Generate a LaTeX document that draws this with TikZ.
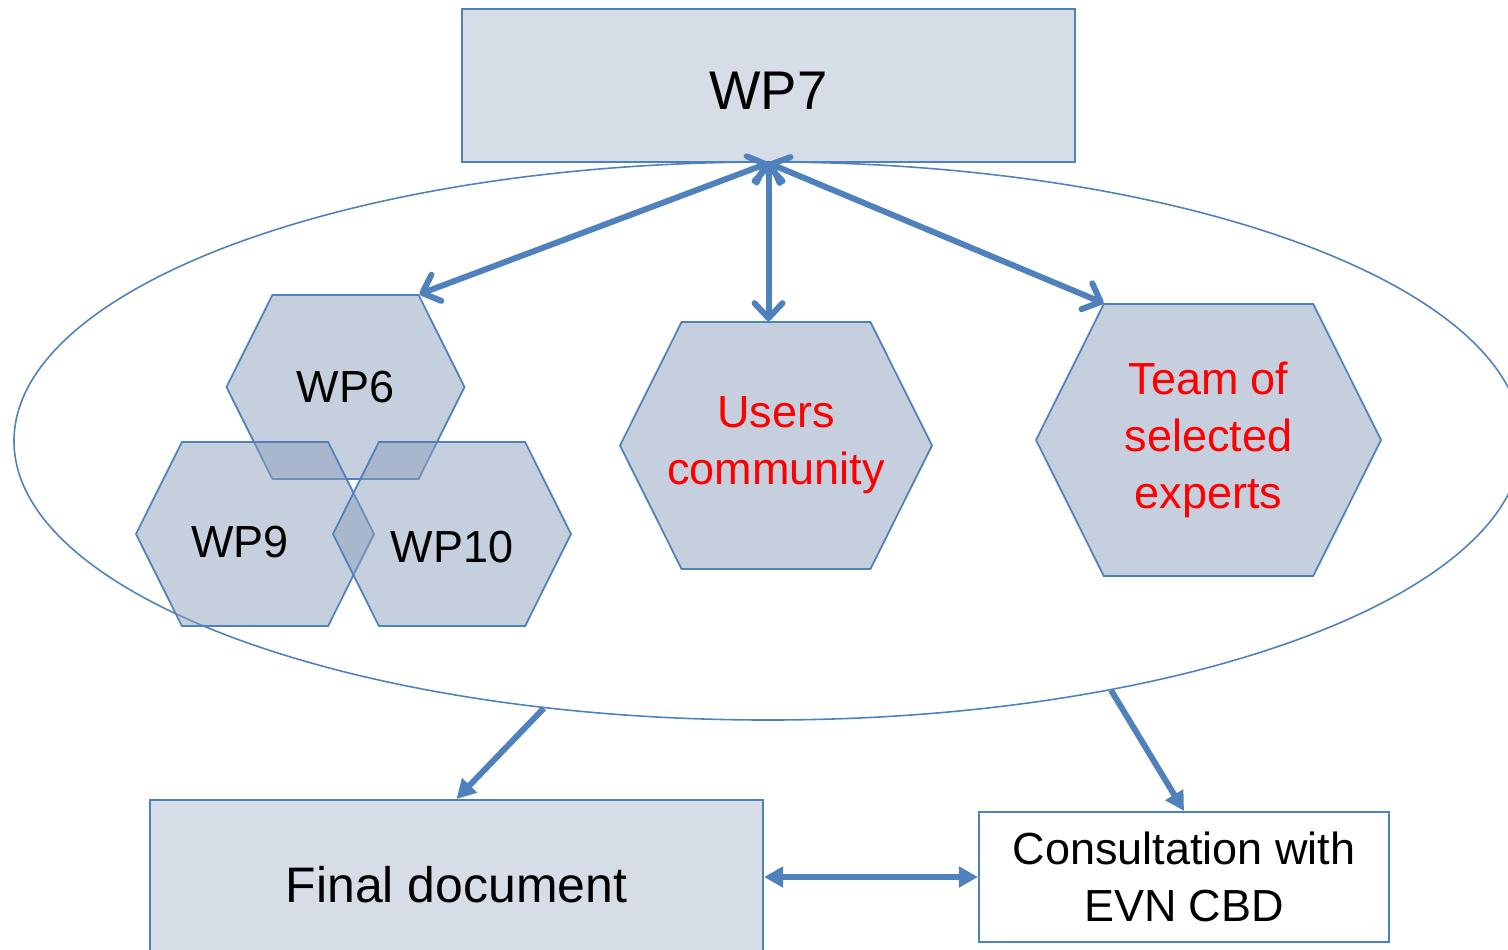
\documentclass[tikz,border=0pt]{standalone}
\usepackage{fontspec}
\setmainfont{Liberation Sans}
\usetikzlibrary{shapes.geometric,shapes.symbols,arrows.meta}
\definecolor{wpblue}{RGB}{79,129,189}
\definecolor{wpbox}{RGB}{214,221,231}
\definecolor{wphex}{RGB}{139,159,187}

\begin{document}
\begin{tikzpicture}[
    box/.style={draw=wpblue, line width=0.6pt, fill=wpbox, inner sep=0pt, align=center},
    hexa/.style={shape=signal, signal to=east and west, signal pointer angle=127,
        draw=wpblue, line width=0.5pt, fill=wphex, fill opacity=0.5, text opacity=1, inner sep=0pt, align=center},
    link/.style={wpblue, line width=1.7pt, {Straight Barb[round,length=1.5mm,width=2.8mm]}-{Straight Barb[round,length=1.5mm,width=2.8mm]}},
    flow/.style={wpblue, line width=1.7pt, -{Triangle[length=1.9mm,width=2mm]}},
    both/.style={wpblue, line width=1.7pt, {Triangle[length=1.9mm,width=2mm]}-{Triangle[length=1.9mm,width=2mm]}},
    txt/.style={font=\fontsize{12.8}{16.2}\selectfont}
]
    \useasboundingbox (0,0) rectangle (15.08,-9.49);

    % the big ellipse round the work packages
    \node[ellipse, draw=wpblue, line width=0.45pt, inner sep=0pt,
          minimum width=15.08cm, minimum height=5.58cm] (cloud) at (7.68,-4.41) {};

    \node[box, minimum width=6.13cm, minimum height=1.53cm, font=\fontsize{15.5}{18}\selectfont] (wp7) at (7.685,-0.855) {\raisebox{-0.5mm}[\height][\depth]{WP7}};

    % hexagons
    \node[hexa, txt, minimum width=2.38cm, minimum height=1.84cm] (wp6) at (3.455,-3.87) {WP6};
    \node[hexa, txt, minimum width=2.38cm, minimum height=1.84cm] (wp9) at (2.55,-5.34) {\raisebox{-0.8mm}[\height][\depth]{WP9}\hspace*{3mm}};
    \node[hexa, txt, minimum width=2.38cm, minimum height=1.84cm] (wp10) at (4.52,-5.34) {\raisebox{-1.3mm}[\height][\depth]{WP10}};
    \node[hexa, txt, text=red, minimum width=3.12cm, minimum height=2.47cm] (users) at (7.76,-4.455) {Users\\\makebox[1.8cm]{community}};
    \node[hexa, txt, text=red, minimum width=3.45cm, minimum height=2.72cm] (team) at (12.085,-4.40) {Team of\\selected\\experts};

    % bottom boxes
    \node[box, minimum width=6.13cm, minimum height=1.7cm, font=\fontsize{14.2}{17}\selectfont] (final) at (4.565,-8.85) {Final document};
    \node[box, fill=white, txt, minimum width=4.10cm, minimum height=1.30cm] (consult) at (11.84,-8.77) {Consultation with\\EVN CBD};

    % links with WP7
    \draw[link] (wp7.south) -- ([xshift=7.4mm]wp6.north);
    \draw[link] (wp7.south) -- (wp7.south |- users.north);
    \draw[link] (wp7.south) -- ([xshift=-10.5mm]team.north);

    % outputs
    \draw[flow] (cloud.230) -- (final.north);
    \draw[flow] (cloud.-36) -- (consult.north);
    \draw[both] (consult.west -| final.east) -- (consult.west);
\end{tikzpicture}
\end{document}
